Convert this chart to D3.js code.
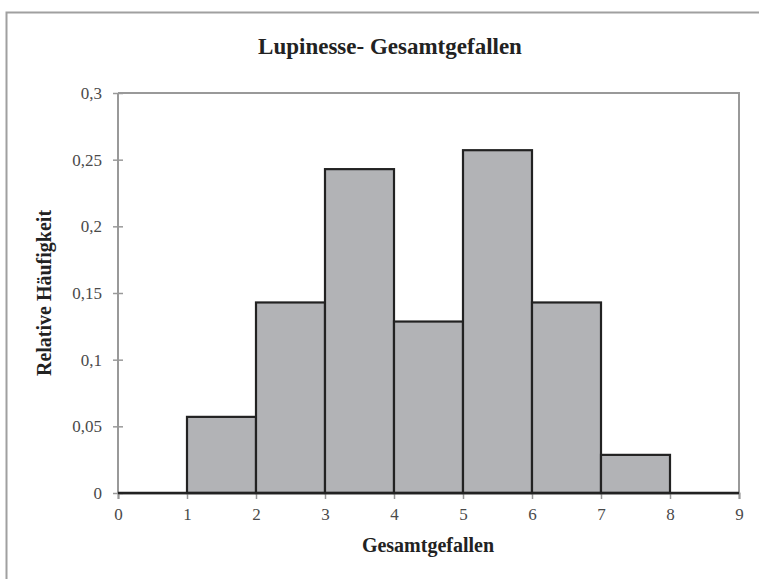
<!DOCTYPE html>
<html><head><meta charset="utf-8">
<script src="https://cdn.jsdelivr.net/npm/d3@7"></script>
<style>body{margin:0;background:#fff}svg{display:block}</style>
</head><body>
<svg id="c" width="759" height="579"></svg>
<script>
const title = "Lupinesse- Gesamtgefallen";
const xTitle = "Gesamtgefallen";
const yTitle = "Relative Häufigkeit";
const binStarts = [1, 2, 3, 4, 5, 6, 7];
const binEnds = [2, 3, 4, 5, 6, 7, 8];
const values = [0.0571, 0.1429, 0.2429, 0.1286, 0.2571, 0.1429, 0.0286];
const xTicks = [0, 1, 2, 3, 4, 5, 6, 7, 8, 9];
const yTicks = [0, 0.05, 0.1, 0.15, 0.2, 0.25, 0.3];
const yTickLabels = ["0", "0,05", "0,1", "0,15", "0,2", "0,25", "0,3"];

const svg = d3.select("#c");
const font = "'Liberation Serif', 'DejaVu Serif', serif";
const L = 118, R = 739, T = 93, B = 493;
const x = d3.scaleLinear().domain([0, 9]).range([L, R]);
const y = d3.scaleLinear().domain([0, 0.3]).range([B, T]);

// outer chart border (clipped at right/bottom)
svg.append("rect").attr("x", 6.5).attr("y", 12.5).attr("width", 800).attr("height", 800)
  .attr("fill", "none").attr("stroke", "#a0a0a0").attr("stroke-width", 2);

// plot area border top & right
svg.append("path").attr("d", `M${L},${T}H${R}V${B}`).attr("fill", "none")
  .attr("stroke", "#999").attr("stroke-width", 2);

// y axis
const yAxis = svg.append("g").attr("transform", `translate(${L},0)`)
  .call(d3.axisLeft(y).tickValues(yTicks).tickFormat((d, i) => yTickLabels[i]).tickSize(5).tickPadding(11));
yAxis.select(".domain").attr("stroke", "#999").attr("stroke-width", 2).attr("d", `M0,${T}V${B}`);
yAxis.selectAll(".tick line").attr("stroke", "#999").attr("stroke-width", 1.5).attr("x1", -5).attr("x2", 5);
yAxis.selectAll(".tick text").attr("font-family", font).attr("font-size", 17).attr("fill", "#4a4a4a");

// x axis
const xAxis = svg.append("g").attr("transform", `translate(0,${B})`)
  .call(d3.axisBottom(x).tickValues(xTicks).tickFormat(d3.format("d")).tickSize(6).tickPadding(9));
xAxis.select(".domain").attr("stroke", "#999").attr("stroke-width", 2);
xAxis.selectAll(".tick line").attr("stroke", "#999").attr("stroke-width", 1.5);
xAxis.selectAll(".tick text").attr("font-family", font).attr("font-size", 17).attr("fill", "#4a4a4a");

// bars
svg.append("g").selectAll("rect").data(values).join("rect")
  .attr("x", (d, i) => x(binStarts[i]))
  .attr("y", d => y(d))
  .attr("width", (d, i) => x(binEnds[i]) - x(binStarts[i]))
  .attr("height", d => y(0) - y(d))
  .attr("fill", "#b2b3b6").attr("stroke", "#222").attr("stroke-width", 2.2);

// baseline
svg.append("line").attr("x1", x(0)).attr("x2", x(9)).attr("y1", y(0)).attr("y2", y(0))
  .attr("stroke", "#222").attr("stroke-width", 2.5);

// titles
svg.append("text").attr("x", 390).attr("y", 54).attr("text-anchor", "middle")
  .attr("font-family", font).attr("font-weight", "bold").attr("font-size", 23).attr("fill", "#222").text(title);
svg.append("text").attr("x", 428).attr("y", 552).attr("text-anchor", "middle")
  .attr("font-family", font).attr("font-weight", "bold").attr("font-size", 20).attr("fill", "#222").text(xTitle);
svg.append("text").attr("transform", `translate(51,${(T + B) / 2}) rotate(-90)`).attr("text-anchor", "middle")
  .attr("font-family", font).attr("font-weight", "bold").attr("font-size", 20).attr("fill", "#222").text(yTitle);
</script>
</body></html>
